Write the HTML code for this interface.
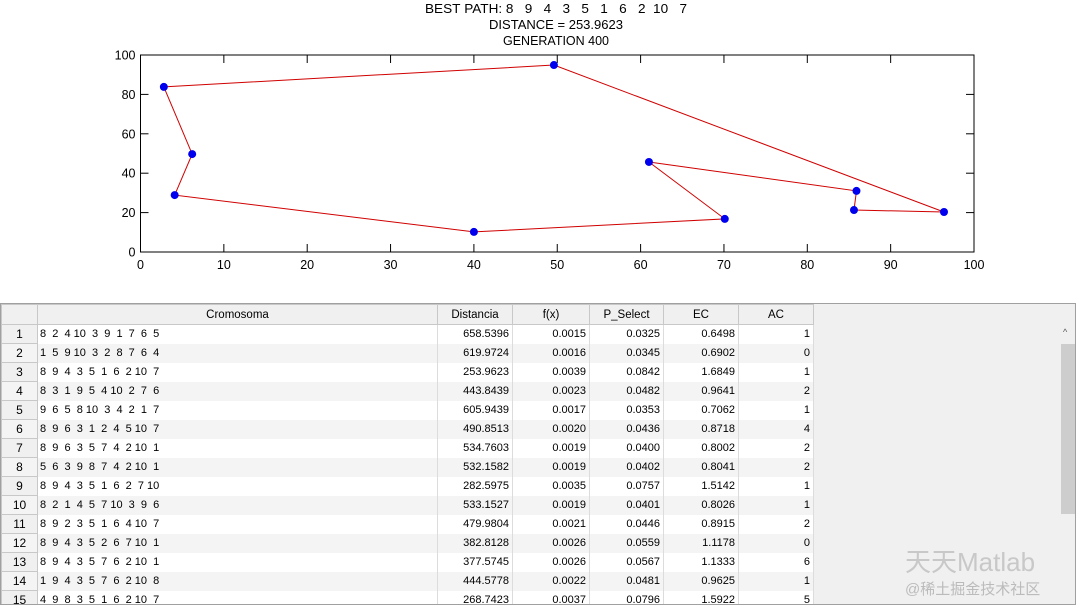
<!DOCTYPE html>
<html><head><meta charset="utf-8">
<style>
body{margin:0;width:1076px;height:605px;background:#fff;overflow:hidden;font-family:"Liberation Sans","Noto Sans CJK SC",sans-serif;position:relative}
#chart{position:absolute;left:0;top:0}
#tbl{position:absolute;left:0;top:303px;width:1074px;height:300px;border:1px solid #a0a0a0;background:#f0f0f0;overflow:hidden}
table{border-collapse:collapse;font-size:11px;position:absolute;left:0;top:0;table-layout:fixed}
td,th{height:18px;padding:0 2px;border-right:1px solid #dcdcdc;white-space:pre;font-weight:normal;overflow:hidden}
th{background:#f0f0f0;border:1px solid #c8c8c8;height:19px;font-size:11.5px}
td.rh{background:#f0f0f0;border:1px solid #c8c8c8;text-align:center;font-size:12px}
td.n{text-align:right;padding-right:3px}
tr.alt td{background:#f4f4f4}
tr td{background:#fff}
#sb{position:absolute;right:0;top:20px;width:16px;height:280px;background:#f0f0f0}
#thumb{position:absolute;left:2px;top:20px;width:14px;height:170px;background:#cdcdcd}
#wm{position:absolute;left:905px;top:542px;font-size:26px;color:#c8c8c8}
#wm2{position:absolute;left:905px;top:578px;font-size:15px;color:#bbb}
</style></head><body>
<svg id="chart" width="1076" height="300" font-family="Liberation Sans, sans-serif">
<g font-size="12.5" text-anchor="middle" fill="#000">
<text x="556" y="13" textLength="262" lengthAdjust="spacingAndGlyphs">BEST&#160;PATH:&#160;8&#160;&#160;&#160;9&#160;&#160;&#160;4&#160;&#160;&#160;3&#160;&#160;&#160;5&#160;&#160;&#160;1&#160;&#160;&#160;6&#160;&#160;&#160;2&#160;&#160;10&#160;&#160;&#160;7</text>
<text x="556" y="29" textLength="134" lengthAdjust="spacingAndGlyphs">DISTANCE = 253.9623</text>
<text x="556" y="45" textLength="106" lengthAdjust="spacingAndGlyphs">GENERATION 400</text>
</g>
<g id="plot"></g>
</svg>
<script>
const xs=[2.8,49.6,96.4,85.6,85.9,61.0,70.1,40.0,4.1,6.2];
const ys=[83.8,94.9,20.3,21.3,31.0,45.7,16.8,10.2,28.9,49.7];
const xTicks=[0,10,20,30,40,50,60,70,80,90,100];
const yTicks=[0,20,40,60,80,100];
const L=140.5,R=974,T=55,B=252;
const sx=v=>L+(R-L)*v/100, sy=v=>B-(B-T)*v/100;
const NS='http://www.w3.org/2000/svg';
const g=document.getElementById('plot');
function mk(t,a){const e=document.createElementNS(NS,t);for(const k in a)e.setAttribute(k,a[k]);g.appendChild(e);return e;}
const box=mk('rect',{x:L,y:T,width:R-L,height:B-T,fill:'#fff',stroke:'#000','stroke-width':1});


xTicks.forEach(v=>{const x=sx(v);
 const a=mk('line',{x1:x,x2:x,y1:B,y2:B-8,stroke:'#000'});
 const b=mk('line',{x1:x,x2:x,y1:T,y2:T+8,stroke:'#000'});
 const t=mk('text',{x:x,y:B+17,'text-anchor':'middle','font-size':12.5});t.textContent=v;});
yTicks.forEach(v=>{const y=sy(v);
 const a=mk('line',{x1:L,x2:L+8,y1:y,y2:y,stroke:'#000'});
 const b=mk('line',{x1:R,x2:R-8,y1:y,y2:y,stroke:'#000'});
 const t=mk('text',{x:L-5,y:y+4.5,'text-anchor':'end','font-size':12.5});t.textContent=v;});
let pts=xs.map((x,i)=>sx(x)+','+sy(ys[i]));pts.push(pts[0]);
const pl=mk('polyline',{points:pts.join(' '),fill:'none',stroke:'#d00000','stroke-width':1});


xs.forEach((x,i)=>{const c=mk('circle',{cx:sx(x),cy:sy(ys[i]),r:4,fill:'#0000ee'});

});
</script>
<div id="tbl">
<table id="t">
<colgroup><col style="width:36px"><col style="width:400px"><col style="width:75px"><col style="width:77px"><col style="width:74px"><col style="width:75px"><col style="width:75px"></colgroup>
<tr><th></th><th>Cromosoma</th><th>Distancia</th><th>f(x)</th><th>P_Select</th><th>EC</th><th>AC</th></tr>
</table>
<div id="sb"><div style="position:absolute;top:3px;left:4px;font-size:9px;color:#555">^</div><div id="thumb"></div></div>
</div>
<div id="wm">天天Matlab</div>
<div id="wm2">@稀土掘金技术社区</div>
<script>
const rows=[
["8  2  4 10  3  9  1  7  6  5","658.5396","0.0015","0.0325","0.6498","1"],
["1  5  9 10  3  2  8  7  6  4","619.9724","0.0016","0.0345","0.6902","0"],
["8  9  4  3  5  1  6  2 10  7","253.9623","0.0039","0.0842","1.6849","1"],
["8  3  1  9  5  4 10  2  7  6","443.8439","0.0023","0.0482","0.9641","2"],
["9  6  5  8 10  3  4  2  1  7","605.9439","0.0017","0.0353","0.7062","1"],
["8  9  6  3  1  2  4  5 10  7","490.8513","0.0020","0.0436","0.8718","4"],
["8  9  6  3  5  7  4  2 10  1","534.7603","0.0019","0.0400","0.8002","2"],
["5  6  3  9  8  7  4  2 10  1","532.1582","0.0019","0.0402","0.8041","2"],
["8  9  4  3  5  1  6  2  7 10","282.5975","0.0035","0.0757","1.5142","1"],
["8  2  1  4  5  7 10  3  9  6","533.1527","0.0019","0.0401","0.8026","1"],
["8  9  2  3  5  1  6  4 10  7","479.9804","0.0021","0.0446","0.8915","2"],
["8  9  4  3  5  2  6  7 10  1","382.8128","0.0026","0.0559","1.1178","0"],
["8  9  4  3  5  7  6  2 10  1","377.5745","0.0026","0.0567","1.1333","6"],
["1  9  4  3  5  7  6  2 10  8","444.5778","0.0022","0.0481","0.9625","1"],
["4  9  8  3  5  1  6  2 10  7","268.7423","0.0037","0.0796","1.5922","5"]];
const t=document.getElementById('t');
rows.forEach((r,i)=>{const tr=document.createElement('tr');


if(i%2)tr.className='alt';
let h='<td class="rh">'+(i+1)+'</td><td>'+r[0]+'</td>';
for(let k=1;k<6;k++)h+='<td class="n">'+r[k]+'</td>';
tr.innerHTML=h;t.appendChild(tr);});
</script>
</body></html>
